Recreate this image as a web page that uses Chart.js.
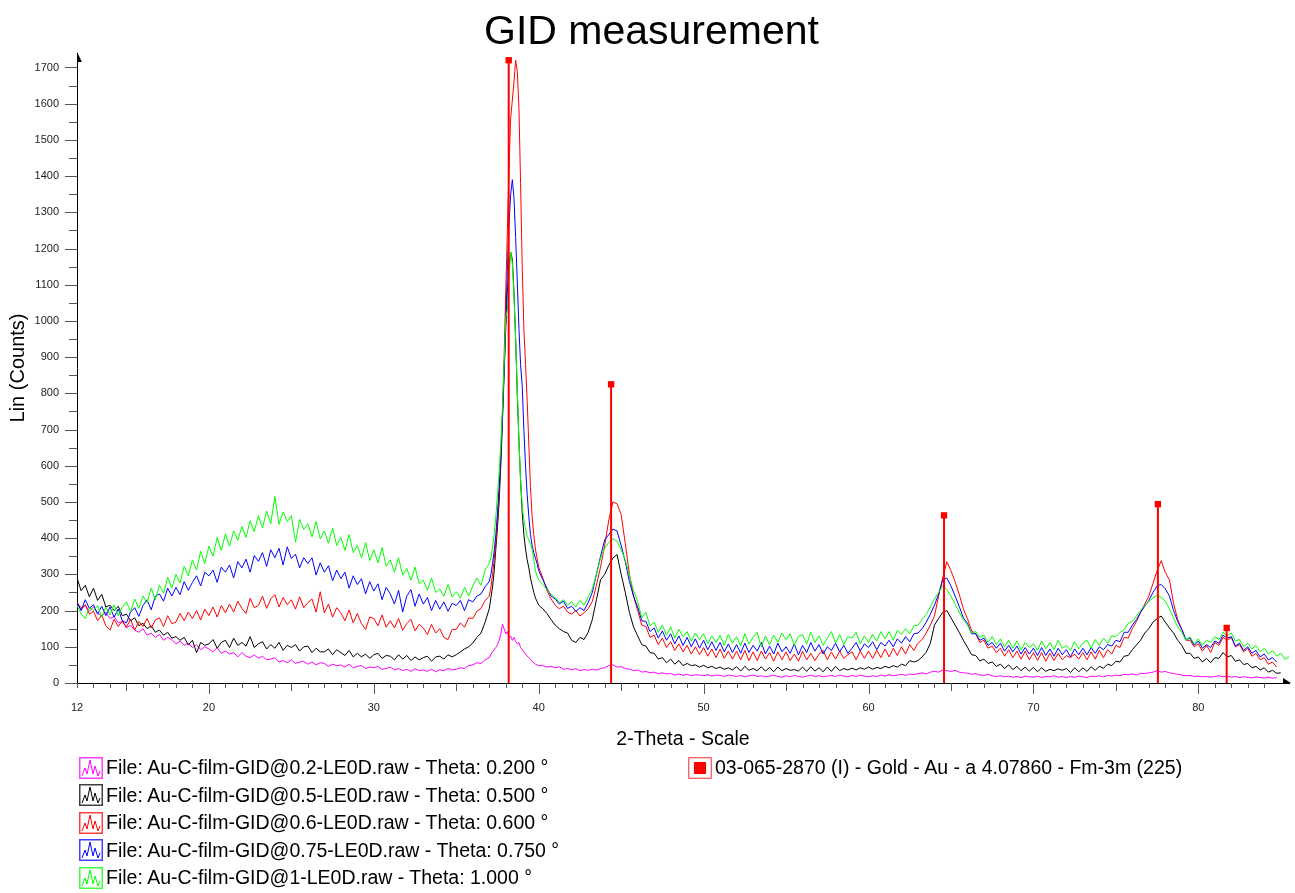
<!DOCTYPE html>
<html>
<head>
<meta charset="utf-8">
<title>GID measurement</title>
<script src="https://cdn.jsdelivr.net/npm/chart.js@4.4.0/dist/chart.umd.min.js"></script>
<style>
  body { margin: 0; background: #fff; font-family: "Liberation Sans", Arial, sans-serif; }
  #wrap { position: relative; width: 1295px; height: 893px; }
  #chart-title { position: absolute; left: 0; top: 6px; width: 1303px; text-align: center; font-size: 41px; line-height: 49px; color: #000; }
  .legend-col { position: absolute; top: 754px; }
  .legend-item { height: 27.5px; display: flex; align-items: center; font-size: 19.5px; color: #000; white-space: nowrap; }
  .legend-item svg { margin-right: 3px; flex: none; }
</style>
</head>
<body>
<div id="wrap">
  <canvas id="gid-chart" width="1295" height="893"></canvas>
  <div id="chart-title">GID measurement</div>
  <div id="legend-left" class="legend-col" style="left:79px"></div>
  <div id="legend-right" class="legend-col" style="left:688px"></div>
</div>
<script>
// 2-Theta grid: 0.25° steps, 0.1° steps across the Au(111) peak
const thetaSegments = [
  [12, 37, 0.25],
  [37.1, 40, 0.1],
  [40.25, 85.5, 0.25]
];
const theta = [];
thetaSegments.forEach(([from, to, step]) => {
  const n = Math.round((to - from) / step);
  for (let i = 0; i <= n; i++) theta.push(+(from + i * step).toFixed(2));
});

// counts (same grid as theta, runs end where the scan ends)
const countsTheta020 = [
  222,208,215,198, 210,192,185,196, 178,184,166,170, 152,160,146,140, 150,132,138,126,
  134,118,126,120, 108,116,104,110, 98,106,92,100, 94,86,98,82, 88,80,84,72,
  84,74,70,78, 68,74,64,66, 70,58,62,56, 64,54,58,60, 52,58,50,56,
  54,46,52,48, 50,44,52,42, 46,48,40,44, 42,46,38,40, 44,36,40,34,
  38,32,40,34, 36,32,38,31, 36,34,40,36, 38,42,40,48, 50,56,54,64,
  70,
  80,86,92,98,106,118,135,162,150,136, 142,124,130,118,126,114,108,112,98,92, 86,80,74,70,66,60,56,52,50,48,
  48,44,46,
  42,45,38,40, 36,40,34,37, 35,38,36,40, 42,48,50,44, 45,40,38,34,
  36,30,32,28, 30,26,28,25, 26,22,25,21, 24,20,23,22, 20,23,19,22,
  21,18,22,20, 18,21,17,20, 22,18,20,17, 19,22,18,16, 20,17,21,18,
  16,19,22,18, 20,17,19,21, 18,22,19,17, 21,18,22,19, 17,20,18,22,
  19,23,20,22, 24,21,25,23, 26,28,25,30, 32,30,36,34, 32,35,30,28,
  27,24,26,22, 21,24,20,18, 20,17,19,16, 18,15,19,17, 16,19,15,18,
  17,20,16,18, 15,18,16,19, 17,15,19,18, 20,17,21,19, 22,20,24,23,
  25,22,27,26, 28,30,34,30, 32,28,26,24, 22,20,21,18, 19,17,18,16,
  18,20,17,19, 16,18,15,17, 16,14,17,15, 14,16,13,15
];
const countsTheta050 = [
  290,255,270,238, 262,228,245,210, 215,200,212,186, 190,172,180,158, 165,150,158,140,
  146,132,140,124, 128,118,126,105, 118,84,112,104, 108,120,96,112, 118,98,124,104,
  112,102,128,98, 108,114,94,106, 96,112,90,104, 98,106,88,100, 102,84,96,86,
  86,94,78,92, 84,76,90,72, 82,72,80,68, 78,82,68,76, 74,64,78,66,
  76,62,72,64, 70,74,60,72, 74,66,78,72, 78,86,94,100, 110,126,138,168,
  205,
  235,265,310,370,430,500,600,720,850,980, 1080,1150,1190,1170,1080,950,800,670,560,470, 410,370,340,318,290,270,250,235,225,215,
  205,192,175,
  160,150,142,138, 118,112,126,120, 140,175,230,285, 300,325,345,355, 300,250,195,155,
  130,106,102,84, 82,66,70,56, 66,52,62,48, 54,48,50,44, 49,42,46,40,
  44,38,42,36, 45,33,46,35, 40,34,45,33, 43,31,44,34, 40,35,37,33,
  44,32,45,33, 42,31,44,32, 46,34,40,36, 41,36,42,38, 44,38,43,40,
  46,42,48,44, 52,48,62,58, 62,72,85,110, 160,178,195,200, 180,160,140,118,
  99,78,76,61, 66,54,58,46, 52,40,50,37, 46,34,44,33, 43,31,42,32,
  38,34,39,35, 40,29,42,31, 42,32,45,35, 46,41,52,48, 60,58,74,76,
  92,105,118,138, 150,168,178,185, 168,152,138,118, 104,82,82,68, 72,58,68,56,
  70,68,84,72, 76,60,64,51, 54,42,46,36, 42,30,35,27,
  28
];
const countsTheta060 = [
  224,202,216,190, 198,172,188,158, 146,176,156,172, 154,176,146,170, 156,178,152,174,
  180,156,186,164, 168,192,172,196, 178,200,174,204, 186,210,182,214, 194,218,196,226,
  206,192,234,208, 214,240,206,232, 244,210,236,216, 230,204,238,208, 222,232,196,252,
  194,218,182,208, 194,172,202,166, 192,164,148,182, 178,158,188,154, 172,152,178,146,
  164,176,144,162, 152,134,162,138, 150,126,120,148, 148,166,154,180, 178,198,206,228,
  240,
  265,300,340,390,450,530,620,740,900,1080, 1250,1430,1560,1610,1660,1720,1690,1590,1380,1150, 980,880,780,660,540,460,410,370,345,320,
  290,255,232,
  215,205,212,196, 190,200,185,194, 205,225,270,320, 380,450,500,495, 465,385,300,240,
  200,160,156,126, 132,106,124,98, 114,90,108,86, 104,80,100,78, 98,74,94,70,
  94,68,88,66, 88,64,90,62, 86,62,88,66, 84,60,86,64, 86,62,80,60,
  88,64,82,62, 80,90,64,86, 66,88,68,78, 86,64,88,68, 88,68,90,70,
  94,72,96,76, 100,80,106,90, 110,120,138,160, 185,240,290,335, 310,280,245,205,
  178,144,136,112, 118,96,102,84, 96,74,92,70, 88,66,88,64, 84,62,84,60,
  82,62,82,64, 76,70,80,66, 84,64,86,66, 90,70,92,80, 104,98,126,124,
  150,170,195,218, 240,275,310,338, 305,285,220,175, 148,118,118,100, 108,88,104,84,
  112,104,126,118, 126,100,106,86, 96,74,82,64, 70,52,58,44
];
const countsTheta075 = [
  222,200,230,206, 216,190,212,186, 210,182,204,172, 166,196,208,184, 214,230,202,240,
  246,226,262,240, 264,244,280,256, 278,296,268,306, 296,312,278,320, 306,326,290,335,
  318,342,306,352, 336,360,322,368, 346,372,326,376, 344,356,318,346, 330,346,298,332,
  306,324,282,312, 288,306,262,296, 272,288,246,280, 254,274,230,264, 246,218,256,196,
  240,258,212,246, 218,236,200,228, 204,224,198,220, 214,228,200,230, 224,240,246,266,
  280,
  300,330,365,410,470,540,630,740,860,1000, 1140,1270,1350,1390,1340,1230,1110,980,880,820, 700,600,520,460,410,380,360,345,330,310,
  285,262,240,
  232,218,226,206, 212,198,208,200, 222,250,300,350, 395,410,425,420, 380,335,280,240,
  210,172,170,142, 152,124,144,118, 136,108,130,104, 126,100,122,96, 118,92,114,90,
  112,86,108,84, 106,82,110,84, 104,88,112,80, 102,80,110,86, 100,82,108,78,
  104,84,112,88, 106,80,100,90, 110,86,104,82, 96,112,88,108, 98,114,92,112,
  102,118,100,122, 110,128,114,136, 138,150,168,190, 215,245,285,290, 268,240,212,180,
  165,136,136,118, 124,104,112,96, 110,88,104,86, 102,80,98,80, 96,76,98,76,
  94,74,96,78, 92,72,94,78, 96,78,98,82, 100,92,106,102, 118,114,140,140,
  160,175,195,212, 228,250,268,272, 260,240,200,170, 148,120,124,104, 116,96,106,98,
  116,110,132,124, 128,102,110,90, 100,82,90,72, 80,64,70,58
];
const countsTheta100 = [
  215,190,178,208, 200,214,182,210, 188,216,186,210, 224,196,232,206, 240,222,262,230,
  270,248,292,262, 300,276,322,296, 340,312,364,330, 378,350,402,366, 412,378,420,394,
  432,402,448,418, 462,428,475,440, 515,438,472,446, 462,389,452,424, 440,404,446,398,
  420,386,428,380, 402,366,410,360, 380,346,388,338, 368,332,374,322, 340,306,346,298,
  316,284,320,274, 284,256,290,250, 260,240,272,238, 252,234,264,240, 268,290,270,312,
  330,
  345,375,410,460,520,580,660,760,880,1010, 1030,1120,1190,1160,1070,950,810,670,560,490, 450,425,405,395,385,370,340,310,295,285,
  272,258,245,
  236,222,230,215, 224,210,228,215, 238,260,300,345, 372,388,398,392, 368,340,295,255,
  225,180,195,158, 168,140,160,132, 155,124,148,128, 142,115,138,120, 136,108,130,112,
  132,104,134,110, 128,102,136,108, 126,140,100,130, 106,132,112,138, 120,136,104,128,
  134,108,140,112, 130,104,124,142, 110,134,106,128, 124,140,108,130, 112,134,116,142,
  122,142,118,146, 134,150,136,158, 160,175,190,210, 232,250,268,258, 240,218,196,175,
  160,138,142,126, 132,112,128,106, 122,100,118,96, 116,92,112,98, 108,90,116,94,
  112,92,118,96, 104,90,114,94, 110,118,96,120, 104,124,110,130, 128,140,146,165,
  170,185,200,215, 225,235,242,236, 226,205,180,155, 140,118,128,108, 122,104,118,112,
  128,120,140,130, 138,116,120,100, 110,94,104,86, 96,80,90,74,
  82,66,72
];

const seriesLabels = [
  'File: Au-C-film-GID@0.2-LE0D.raw - Theta: 0.200 °',
  'File: Au-C-film-GID@0.5-LE0D.raw - Theta: 0.500 °',
  'File: Au-C-film-GID@0.6-LE0D.raw - Theta: 0.600 °',
  'File: Au-C-film-GID@0.75-LE0D.raw - Theta: 0.750 °',
  'File: Au-C-film-GID@1-LE0D.raw - Theta: 1.000 °'
];
const seriesColors = ['#ff00ff', '#000000', '#ff0000', '#0000ff', '#00ff00'];
const seriesCounts = [countsTheta020, countsTheta050, countsTheta060, countsTheta075, countsTheta100];

// reference pattern: gold
const goldLabel = '03-065-2870 (I) - Gold - Au - a 4.07860 - Fm-3m (225)';
const goldPos = [38.18, 44.39, 64.58, 77.55, 81.72];
const goldHeight = [1720, 825, 463, 494, 152];

const FONT = '"Liberation Sans", Arial, sans-serif';
Chart.defaults.font.family = FONT;
Chart.defaults.color = '#000';

const datasets = seriesCounts.map((counts, i) => ({
  label: seriesLabels[i],
  data: counts.map((c, j) => ({ x: theta[j], y: c })),
  borderColor: seriesColors[i],
  borderWidth: 1,
  pointRadius: 0,
  tension: 0,
  fill: false,
  order: 5 - i
}));

const goldSticks = [];
goldPos.forEach((pos, i) => {
  goldSticks.push({ x: pos, y: 0 }, { x: pos, y: goldHeight[i], top: true }, { x: pos, y: null });
});
datasets.push({
  label: goldLabel,
  data: goldSticks,
  borderColor: '#ff0000',
  borderWidth: 2,
  pointStyle: 'rect',
  pointRadius: ctx => (ctx.raw && ctx.raw.top ? 4.5 : 0),
  pointBackgroundColor: '#ff0000',
  pointBorderWidth: 0,
  spanGaps: false,
  order: 0
});

// tick marks of varying length + small arrow heads on both axes
const axisDecor = {
  id: 'axisDecor',
  afterDraw(chart) {
    const { ctx, chartArea: a, scales: { x, y } } = chart;
    ctx.save();
    ctx.strokeStyle = '#555';
    ctx.lineWidth = 1;
    ctx.beginPath();
    x.ticks.forEach(t => {
      if (t.value % 1 !== 0) return;
      const px = Math.round(x.getPixelForValue(t.value)) + 0.5;
      const len = t.value % 10 === 0 ? 11 : (t.value % 5 === 0 ? 8 : 5);
      ctx.moveTo(px, a.bottom);
      ctx.lineTo(px, a.bottom + len);
    });
    y.ticks.forEach(t => {
      if (t.value % 50 !== 0) return;
      const py = Math.round(y.getPixelForValue(t.value)) + 0.5;
      const len = t.value % 100 === 0 ? 12 : 8;
      ctx.moveTo(a.left - len, py);
      ctx.lineTo(a.left, py);
    });
    ctx.stroke();

    ctx.fillStyle = '#000';
    ctx.beginPath();
    ctx.moveTo(a.left, a.top - 1);
    ctx.lineTo(a.left + 5, a.top + 9);
    ctx.lineTo(a.left, a.top + 9);
    ctx.closePath();
    ctx.fill();
    ctx.beginPath();
    ctx.moveTo(a.right + 2, a.bottom);
    ctx.lineTo(a.right - 6, a.bottom - 5);
    ctx.lineTo(a.right - 6, a.bottom);
    ctx.closePath();
    ctx.fill();
    ctx.restore();
  }
};

new Chart(document.getElementById('gid-chart'), {
  type: 'line',
  data: { datasets },
  options: {
    responsive: false,
    animation: false,
    events: [],
    layout: { padding: { left: 0, right: 5, top: 53, bottom: 140 } },
    plugins: {
      legend: { display: false },
      tooltip: { enabled: false },
      title: { display: false }
    },
    scales: {
      x: {
        type: 'linear',
        min: 12,
        max: 85.5,
        grid: { display: true, drawOnChartArea: false, tickLength: 12, tickColor: 'rgba(0,0,0,0)' },
        border: { display: true, color: '#000', width: 1 },
        ticks: {
          stepSize: 1,
          autoSkip: false,
          maxRotation: 0,
          padding: 6,
          color: '#222',
          font: { size: 11 },
          callback: v => (v === 12 || v % 10 === 0 ? v : '')
        },
        title: {
          display: true,
          text: '2-Theta - Scale',
          color: '#000',
          font: { size: 19.5 },
          padding: { top: 0, bottom: 2 }
        },
        afterFit: s => { s.height = 70; }
      },
      y: {
        type: 'linear',
        min: 0,
        max: 1740,
        grid: { display: true, drawOnChartArea: false, tickLength: 12, tickColor: 'rgba(0,0,0,0)' },
        border: { display: true, color: '#000', width: 1 },
        ticks: {
          stepSize: 50,
          autoSkip: false,
          padding: 6,
          color: '#222',
          font: { size: 11 },
          callback: v => (v % 100 === 0 ? v : '')
        },
        title: {
          display: true,
          text: 'Lin (Counts)',
          color: '#000',
          font: { size: 20 },
          padding: { top: 6, bottom: 0 }
        },
        afterFit: s => { s.width = 77; }
      }
    }
  },
  plugins: [axisDecor]
});

// legend: scans in the left column, reference pattern on the right
function peakIcon(color) {
  return '<svg width="24" height="22" viewBox="0 0 24 22">' +
    '<rect x="0.75" y="0.75" width="22.5" height="20.5" fill="none" stroke="' + color + '" stroke-width="1.5" opacity="0.75"/>' +
    '<polyline points="3,19 6,11 8,17 11,3 14,17 16,9 19,19 21,14" fill="none" stroke="' + color + '" stroke-width="1"/></svg>';
}
function squareIcon(color) {
  return '<svg width="24" height="22" viewBox="0 0 24 22">' +
    '<rect x="0.75" y="0.75" width="22.5" height="20.5" fill="none" stroke="' + color + '" stroke-width="1.2" opacity="0.7"/>' +
    '<rect x="6" y="5" width="12" height="12" fill="' + color + '"/></svg>';
}
const legendLeft = document.getElementById('legend-left');
seriesLabels.forEach((label, i) => {
  const item = document.createElement('div');
  item.className = 'legend-item';
  item.innerHTML = peakIcon(seriesColors[i]);
  item.appendChild(document.createTextNode(label));
  legendLeft.appendChild(item);
});
const goldItem = document.createElement('div');
goldItem.className = 'legend-item';
goldItem.innerHTML = squareIcon('#ff0000');
goldItem.appendChild(document.createTextNode(goldLabel));
document.getElementById('legend-right').appendChild(goldItem);
</script>
</body>
</html>
